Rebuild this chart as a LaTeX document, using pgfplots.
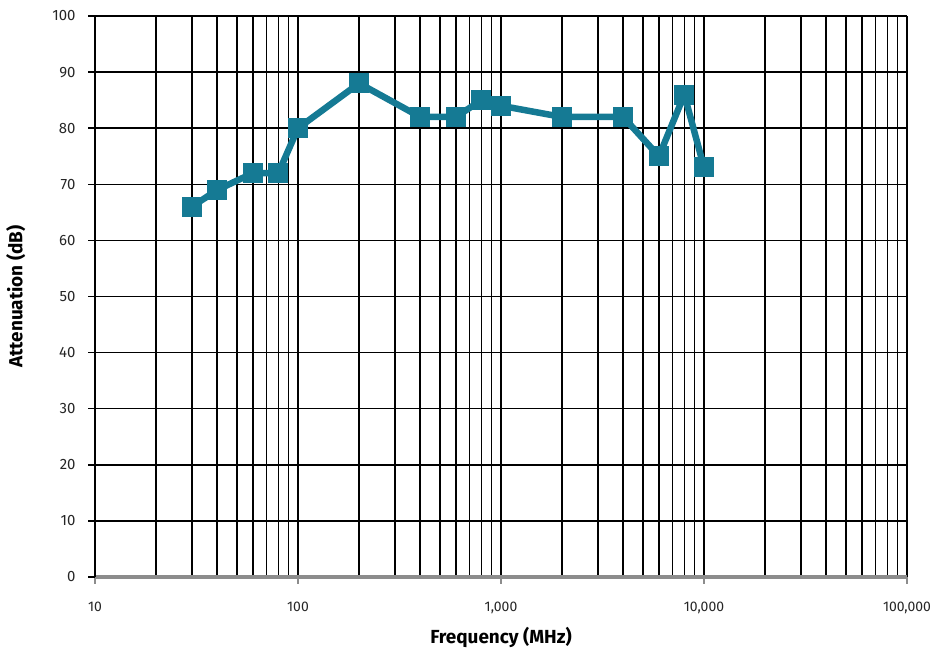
\documentclass[border=0pt]{standalone}
\usepackage{fontspec}
\setmainfont{Fira Sans}
\usepackage{pgfplots}
\pgfplotsset{compat=1.18}

\definecolor{teal}{HTML}{157A94}
\definecolor{axgray}{HTML}{8C8C8C}

\pgfplotstableread{
f      att
30     66
40     69
60     72
80     72
100    80
200    88
400    82
600    82
800    85
1000   84
2000   82
4000   82
6000   75
8000   86
10000  73
}\attdata

\begin{document}
\begin{tikzpicture}
\useasboundingbox (-95bp,-73bp) rectangle (836bp,577bp);
\begin{axis}[
    scale only axis,
    width=812bp, height=561bp,
    xmode=log,
    xmin=10, xmax=100000,
    ymin=0, ymax=100,
    ytick={0,10,...,100},
    xtick={10,100,1000,10000,100000},
    xticklabels={10,100,{1,000},{10,000},{100,000}},
    grid=both,
    major grid style={black, line width=1.5bp},
    minor grid style={black, line width=1.5bp},
    axis lines*=left,
    x axis line style={axgray, line width=3.5bp},
    y axis line style={black, line width=1.5bp},
    tick align=outside,
    major tick length=7bp,
    minor tick length=0pt,
    xtick style={axgray, line width=2.5bp},
    ytick style={black, line width=1.5bp},
    /pgf/number format/assume math mode=true,
    ticklabel style={font=\fontsize{15}{17}\selectfont, text=black!85},
    xticklabel style={yshift=-15bp, font=\fontsize{14}{16}\selectfont},
    yticklabel style={xshift=-9bp},
    xlabel={\textbf{Frequency (MHz)}},
    ylabel={\textbf{Attenuation (dB)}},
    label style={font=\fontsize{19}{21}\selectfont},
    xlabel style={yshift=-6bp},
    ylabel style={yshift=20bp},
    clip=false,
]
\addplot[teal, line width=6.5bp, mark=square*, mark size=9.5bp,
         mark options={line width=1bp, rounded corners=2bp}]
    table[x=f, y=att] {\attdata};
\end{axis}
\end{tikzpicture}
\end{document}
